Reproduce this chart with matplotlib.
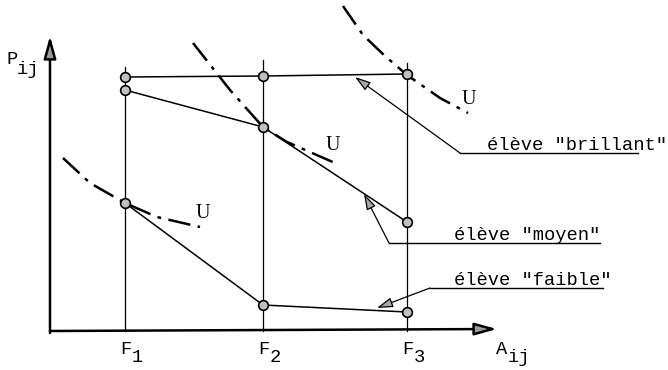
import matplotlib
matplotlib.use("Agg")
import matplotlib.pyplot as plt
from matplotlib.patches import FancyArrowPatch

plt.rcParams['font.family'] = ['Liberation Mono', 'DejaVu Sans Mono']

# data (origin at the axis corner)
F_pos = [75, 213, 357]
F_subs = ['1', '2', '3']
F_tops = [264, 271, 268]

brillant = [254, 255, 257]
moyen = [241, 204, 109]
faible = [128, 26, 19]

# indifference curves U
U_brillant_x = [293, 313, 335, 357, 390, 418]
U_brillant_y = [325, 296, 275, 256, 233, 218]
U_moyen_x = [143, 180, 213, 237, 285]
U_moyen_y = [288, 241, 204, 189, 168]
U_faible_x = [13, 40, 75, 107, 150]
U_faible_y = [173, 148, 128, 114, 104]
U_labels = [(419, 231), (283, 185), (153, 118)]

# leader labels: text, arrow tip, elbow, end of underline
labels = ["élève \"brillant\"", "élève \"moyen\"", "élève \"faible\""]
tips = [(305, 254), (314, 137), (327, 23)]
elbows = [(410, 178), (339, 88), (380, 43)]
ends = [588, 550, 553]
text_x = [437, 404, 404]

fig = plt.figure(figsize=(6.68, 3.70), dpi=100)
ax = fig.add_axes([0, 0, 1, 1])
ax.set_xlim(-50, 618)
ax.set_ylim(-39, 331)
ax.axis('off')

fs = 13.5

# axes with arrows
for start, end in [((0, -2), (0, 295)), ((0, 0), (447, 2))]:
    ax.add_patch(FancyArrowPatch(start, end, arrowstyle='-|>,head_length=0.9,head_width=0.25',
                                 mutation_scale=15, lw=1.8, edgecolor='black',
                                 facecolor='#9a9a9a', shrinkA=0, shrinkB=0))
ax.text(-38, 272, "P", fontsize=fs, ha='center', va='center')
ax.text(-22, 261, "ij", fontsize=fs, ha='center', va='center')
ax.text(452, -18, "A", fontsize=fs, ha='center', va='center')
ax.text(469, -26, "ij", fontsize=fs, ha='center', va='center')

# verticals at F1, F2, F3
for x, top, s in zip(F_pos, F_tops, F_subs):
    ax.plot([x, x], [0, top], color='black', lw=0.9)
    ax.text(x + 1, -18, "F", fontsize=fs, ha='center', va='center')
    ax.text(x + 12, -26, s, fontsize=fs, ha='center', va='center')

# indifference curves
dash = (0, (9, 3, 1.5, 3))
for ux, uy in [(U_brillant_x, U_brillant_y), (U_moyen_x, U_moyen_y), (U_faible_x, U_faible_y)]:
    ax.plot(ux, uy, color='black', lw=1.8, linestyle=dash)
for (x, y) in U_labels:
    ax.text(x, y, "U", fontsize=fs + 1, ha='center', va='center', family='Liberation Serif')

# student lines
for vals in [brillant, moyen, faible]:
    ax.plot(F_pos, vals, color='black', lw=1.1)
    ax.plot(F_pos, vals, linestyle='none', marker='o', ms=7, mfc='#c0c0c0',
            mec='black', mew=1.2)

# leaders
for lab, tip, elb, xe, tx in zip(labels, tips, elbows, ends, text_x):
    ax.plot([elb[0], xe], [elb[1], elb[1]], color='black', lw=1.0)
    ax.add_patch(FancyArrowPatch(elb, tip, arrowstyle='-|>,head_length=0.8,head_width=0.25',
                                 mutation_scale=12, lw=0.9, edgecolor='black',
                                 facecolor='#a8a8a8', shrinkA=0, shrinkB=0))
    ax.text(tx, elb[1] + 3, lab, fontsize=fs, ha='left', va='baseline')

fig.savefig("out.png", dpi=100)
